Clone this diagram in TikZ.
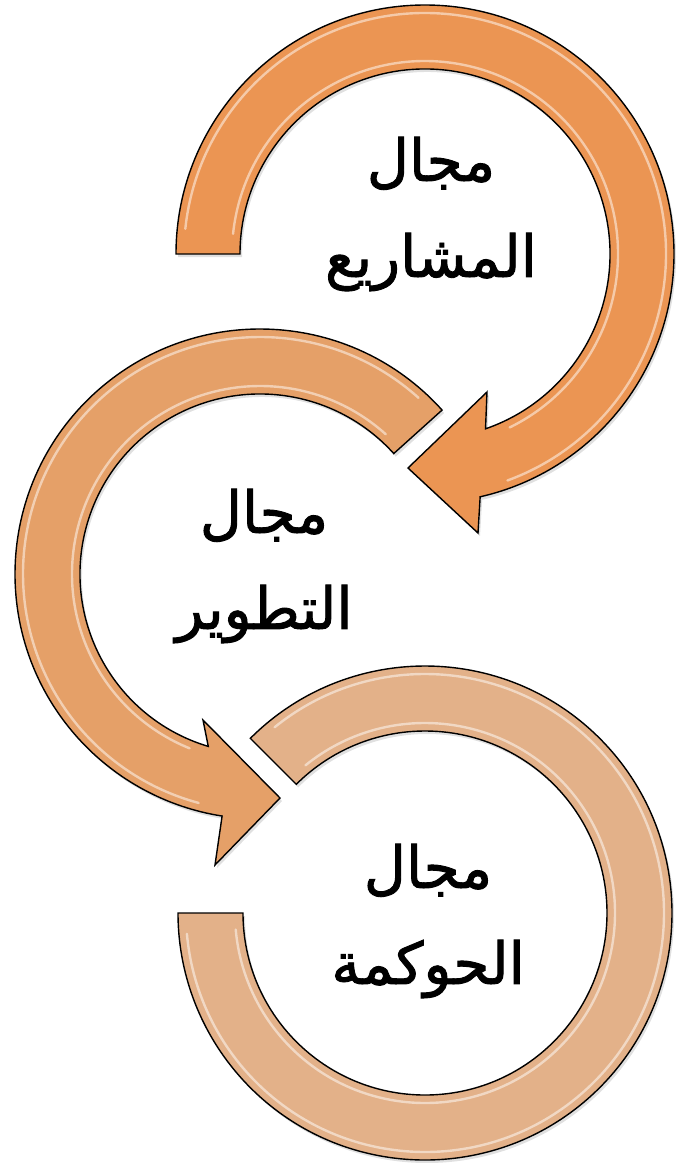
\documentclass[tikz,border=0pt]{standalone}
\usepackage{fontspec}
\newfontfamily\arabicfont[Script=Arabic,FakeBold=1.6]{DejaVu Sans}
\TeXXeTstate=1
\definecolor{arrA}{HTML}{EB9553}
\definecolor{arrB}{HTML}{E5A068}
\definecolor{arrC}{HTML}{E3B189}
\tikzset{
  ringshape/.style={draw=black, line width=1.4pt, line join=miter},
  ringshadow/.style={fill=black, opacity=0.12, draw=none},
  gloss/.style={draw=white, opacity=0.5, line width=2.4pt, line cap=round},
  lbltext/.style={font=\arabicfont\fontsize{58}{96}\selectfont, align=center, text=black, inner sep=0pt}
}
\def\pathC{([shift={(425,913)}]225:247) arc[start angle=225, end angle=540, radius=247pt]
  -- (243,913) arc[start angle=540, end angle=225, radius=182pt] -- cycle}
\def\pathB{([shift={(260,574)}]-42:245) arc[start angle=-42, end angle=-261.1, radius=245pt]
  -- (215,865) -- (280,798) -- (203,720)
  -- ([shift={(260,574)}]-253.3:180) arc[start angle=-253.3, end angle=-42, radius=180pt] -- cycle}
\def\pathA{(176,254) arc[start angle=180, end angle=437.2, radius=249pt]
  -- (478,533) -- (408,468) -- (487,392)
  -- ([shift={(425,254)}]430.9:185) arc[start angle=430.9, end angle=180, radius=185pt] -- cycle}
\begin{document}
\begin{tikzpicture}[x=1pt,y=1pt,yscale=-1]
\useasboundingbox (0,0) rectangle (677,1163);
% shadows
\begin{scope}[shift={(2,3)}]
\path[ringshadow] \pathC;
\path[ringshadow] \pathB;
\path[ringshadow] \pathA;
\end{scope}
% bottom ring
\path[ringshape, fill=arrC] \pathC;
\draw[gloss] ([shift={(425,913)}]231:239) arc[start angle=231, end angle=535, radius=239pt];
\draw[gloss] ([shift={(425,913)}]231:190) arc[start angle=231, end angle=535, radius=190pt];
% middle arrow
\path[ringshape, fill=arrB] \pathB;
\draw[gloss] ([shift={(260,574)}]-48:237) arc[start angle=-48, end angle=-255, radius=237pt];
\draw[gloss] ([shift={(260,574)}]-48:188) arc[start angle=-48, end angle=-248, radius=188pt];
% top arrow
\path[ringshape, fill=arrA] \pathA;
\draw[gloss] ([shift={(425,254)}]186:241) arc[start angle=186, end angle=430, radius=241pt];
\draw[gloss] ([shift={(425,254)}]186:193) arc[start angle=186, end angle=424, radius=193pt];
% labels
\node[lbltext] (t1) at (431,214) {\beginR مجال\endR\\\beginR المشاريع\endR};
\node[lbltext] (t2) at (264,566) {\beginR مجال\endR\\\beginR التطوير\endR};
\node[lbltext] (t3) at (428,921) {\beginR مجال\endR\\\beginR الحوكمة\endR};
\end{tikzpicture}
\end{document}
